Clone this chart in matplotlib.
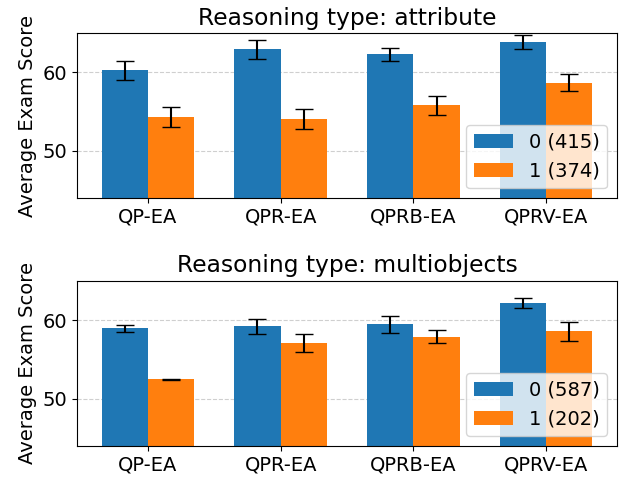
import numpy as np
from matplotlib import pyplot as plt

methods = ['QP-EA', 'QPR-EA', 'QPRB-EA', 'QPRV-EA']

# attribute panel
attr_0 = [60.25, 62.9, 62.3, 63.8]
attr_0_err = [1.25, 1.2, 0.8, 0.9]
attr_1 = [54.3, 54.05, 55.8, 58.7]
attr_1_err = [1.25, 1.25, 1.2, 1.1]
attr_labels = ['0 (415)', '1 (374)']

# multiobjects panel
multi_0 = [58.95, 59.2, 59.45, 62.15]
multi_0_err = [0.42, 1.0, 1.05, 0.65]
multi_1 = [52.5, 57.1, 57.9, 58.6]
multi_1_err = [0.05, 1.15, 0.85, 1.2]
multi_labels = ['0 (587)', '1 (202)']

plt.rcParams['font.size'] = 14


def panel(ax, title, v0, e0, v1, e1, labels):
    x = np.arange(len(methods))
    w = 0.35
    ax.bar(x - w / 2, v0, w, yerr=e0, capsize=6.5, label=labels[0], color='#1f77b4')
    ax.bar(x + w / 2, v1, w, yerr=e1, capsize=6.5, label=labels[1], color='#ff7f0e')
    ax.set_xticks(x)
    ax.set_xticklabels(methods)
    ax.set_yticks([50, 60])
    ax.set_ylim(44, 65)
    ax.set_ylabel('Average Exam Score')
    ax.set_title(title)
    ax.grid(axis='y', linestyle='--', alpha=0.6)
    ax.set_axisbelow(True)
    ax.legend(loc='lower right')


fig, axes = plt.subplots(2, 1, figsize=(6.23, 4.8), dpi=100)
panel(axes[0], 'Reasoning type: attribute', attr_0, attr_0_err, attr_1, attr_1_err, attr_labels)
panel(axes[1], 'Reasoning type: multiobjects', multi_0, multi_0_err, multi_1, multi_1_err, multi_labels)
plt.subplots_adjust(left=0.1236, right=0.9904, top=0.9313, bottom=0.0708, hspace=0.5)
plt.savefig('out.png')
